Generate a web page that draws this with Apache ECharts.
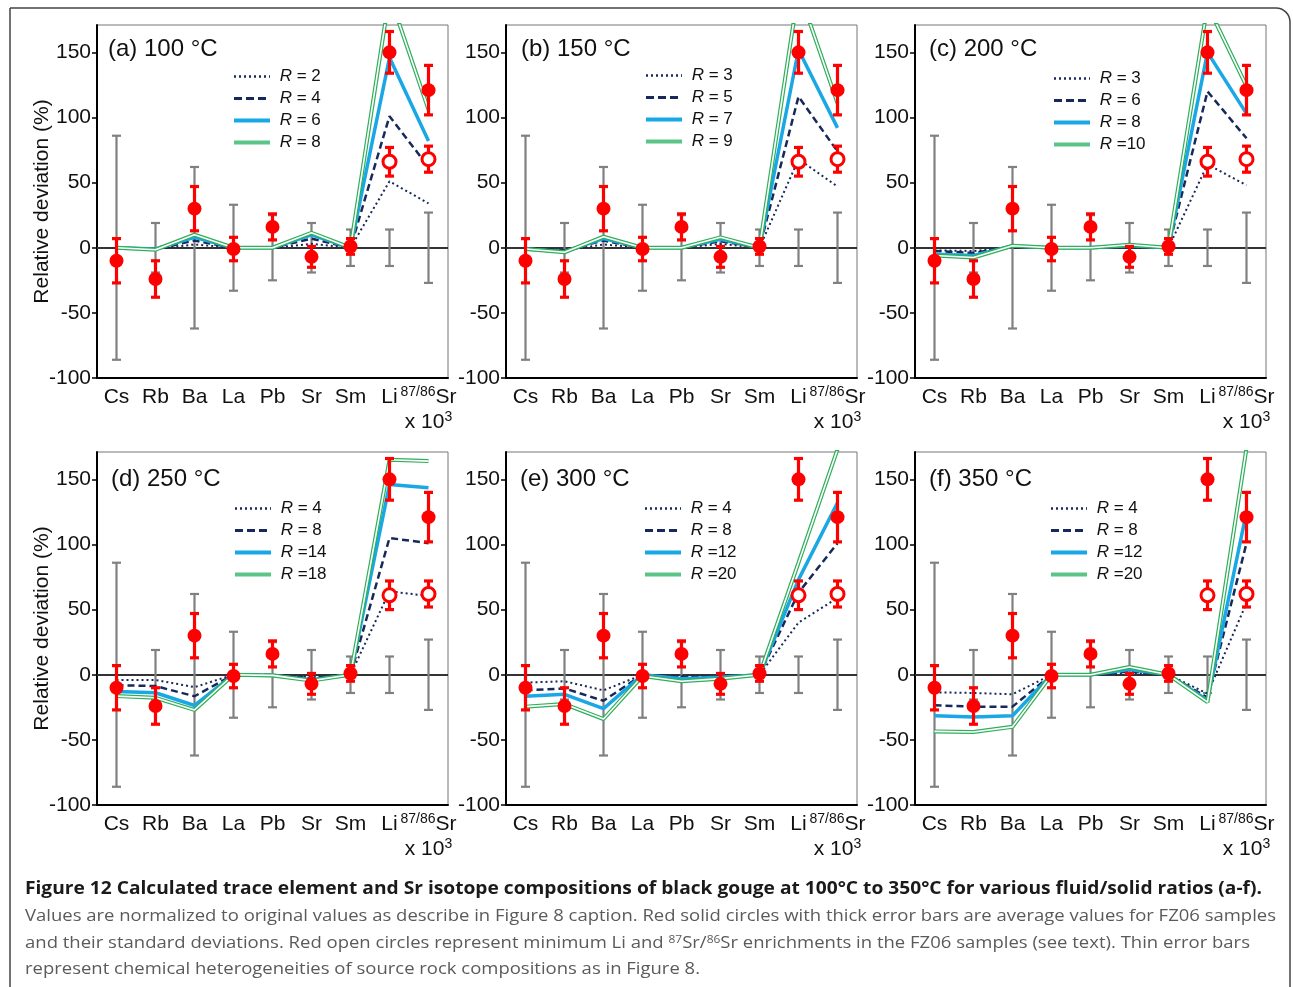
<!DOCTYPE html>
<html>
<head>
<meta charset="utf-8">
<script src="https://cdn.jsdelivr.net/npm/echarts@6/dist/echarts.min.js"></script>
<style>
  html, body { margin: 0; padding: 0; background: #fff; }
  #chart { width: 1293px; height: 987px; }
</style>
</head>
<body>
<div id="chart"></div>
<script>
// categories
const elements = ['Cs', 'Rb', 'Ba', 'La', 'Pb', 'Sr', 'Sm', 'Li', 'Sr87'];
const yTicks = [-100, -50, 0, 50, 100, 150];

// thin gray bars: source rock heterogeneity, centred on 0
const rockSpread = [86, 19, 62, 33, 25, 19, 14, 14, 27];
// red solid circles: FZ06 averages and standard deviations
const fz06Mean = [-10, -24, 30, -1, 16, -7, 1, 150, 121];
const fz06Sd = [17, 14, 17, 9, 10, 8, 6, 16, 19];
// red open circles: minimum Li and 87/86Sr enrichments
const minIdx = [7, 8];
const minTopRow = [66, 68];
const minBottomRow = [61, 62];
const minSd = [11, 10];

const panelTitles = ['(a) 100 °C', '(b) 150 °C', '(c) 200 °C', '(d) 250 °C', '(e) 300 °C', '(f) 350 °C'];
const legendLabels = [
  ['R = 2', 'R = 4', 'R = 6', 'R = 8'],
  ['R = 3', 'R = 5', 'R = 7', 'R = 9'],
  ['R = 3', 'R = 6', 'R = 8', 'R =10'],
  ['R = 4', 'R = 8', 'R =14', 'R =18'],
  ['R = 4', 'R = 8', 'R =12', 'R =20'],
  ['R = 4', 'R = 8', 'R =12', 'R =20']
];

// calculated compositions, one row per fluid/solid ratio (dotted, dashed, blue, green)
const modelA = [
  [0, -1, 2.5, 0, 0, 3, 0, 51, 34],
  [0, -1, 5.5, 0, 0, 7, 0, 101, 62],
  [0, -1, 8, 0, 0, 10, 0, 146, 82],
  [0, -1.5, 10, 0, 0, 11.5, 0, 194, 106]
];
const modelB = [
  [-1, -2, 2.5, 0, 0, 3, 0, 68, 47],
  [-1, -2, 5.5, 0, 0, 5, 0, 116, 74],
  [-1, -3, 7, 0, 0, 6.5, 0, 152, 92],
  [-1, -3.5, 8.5, 0, 0, 8, 0, 198, 111]
];
const modelC = [
  [-2, -2.5, 0, 0, 0, 0, 0, 64, 48],
  [-2.5, -4, 1, 0, 0, 1, 0, 120, 84],
  [-5, -6, 1.3, 0, 0, 1.5, 0, 150, 103],
  [-6, -7.5, 1.5, 0, 0, 2.3, 0, 186, 124]
];
const modelD = [
  [-4, -4, -9.5, 0, 0, -2, 0, 64, 60.5],
  [-8, -8.7, -16.5, 0, 0, -2.5, 0, 105, 101],
  [-12.8, -13.8, -23.6, 0, -0.5, -3.8, 0, 146, 143.5],
  [-16.4, -17.7, -27, 0, -0.5, -4.5, 0, 165, 164]
];
const modelE = [
  [-6, -5, -12, 0, -1, -1, 0, 40, 59],
  [-12, -10.5, -20, 0, -2, -1.5, 0, 63, 101],
  [-16.5, -15, -26, 0, -3, -2, 0, 73, 132],
  [-24.5, -22.5, -34, -1, -5, -3, 0, 86, 173]
];
const modelF = [
  [-13.5, -14, -15, 0, 0, 1.5, 0, -14.5, 55],
  [-23.5, -24.5, -24.5, 0, 0, 2.5, 0, -17.5, 101],
  [-31.5, -32.5, -31.5, 0, 0, 4, 0, -19.5, 125],
  [-43.5, -44, -40, 0, 0, 6, 0, -21, 174]
];
const models = [modelA, modelB, modelC, modelD, modelE, modelF];

// layout
const gridLefts = [97, 506, 915];
const gridTops = [25, 452];
const gridW = 351;
const gridH = 353;
const titlePos = [[108, 37], [521, 37], [929, 37], [111, 467], [520, 467], [929, 467]];
const legendPos = [[232, 68], [644, 67], [1052, 70], [233, 500], [643, 500], [1049, 500]];

const FONT = 'Liberation Sans';
const NAVY = '#17285a';
const BLUE = '#19a7e6';
const GREEN = '#2fae5b';
const RED = '#ff0000';
const GRAY = '#808080';

const lineStyles = [
  { color: NAVY, width: 2, type: [2, 3] },
  { color: NAVY, width: 2.5, type: [7, 4] },
  { color: BLUE, width: 3.5, type: 'solid' },
  { color: GREEN, width: 4, type: 'solid' }
];
const legendLineStyles = [
  { color: NAVY, width: 2.5, type: [2, 3] },
  { color: NAVY, width: 3, type: [8, 4] },
  { color: BLUE, width: 4, type: 'solid' },
  { color: '#5cc487', width: 4, type: 'solid' }
];

function errorBarItem(color, width, cap) {
  return function (params, api) {
    const k = api.value(0);
    const top = api.coord([k, api.value(2)]);
    const bot = api.coord([k, api.value(1)]);
    const s = { stroke: color, lineWidth: width };
    return {
      type: 'group',
      children: [
        { type: 'line', shape: { x1: top[0], y1: top[1], x2: bot[0], y2: bot[1] }, style: s },
        { type: 'line', shape: { x1: top[0] - cap, y1: top[1], x2: top[0] + cap, y2: top[1] }, style: s },
        { type: 'line', shape: { x1: bot[0] - cap, y1: bot[1], x2: bot[0] + cap, y2: bot[1] }, style: s }
      ]
    };
  };
}

const grid = [], xAxis = [], yAxis = [], series = [], legend = [], title = [];
const legendNames = {};

for (let i = 0; i < 6; i++) {
  const col = i % 3, row = Math.floor(i / 3);
  grid.push({
    left: gridLefts[col], top: gridTops[row], width: gridW, height: gridH,
    show: true, borderColor: '#777', borderWidth: 1, backgroundColor: 'transparent'
  });
  xAxis.push({
    type: 'category', gridIndex: i, data: elements,
    axisLine: { onZero: false, lineStyle: { color: '#000', width: 2 } },
    axisTick: { show: false },
    axisLabel: {
      interval: 0, margin: 7, color: '#111',
      formatter: v => v === 'Sr87' ? '{s|87/86}{n|Sr}\n{n|x 10}{s|3}' : '{n|' + v + '}',
      rich: {
        n: { fontSize: 21, lineHeight: 25, fontFamily: FONT, color: '#111' },
        s: { fontSize: 14, lineHeight: 14, fontFamily: FONT, color: '#111', verticalAlign: 'top' }
      }
    }
  });
  yAxis.push({
    type: 'value', gridIndex: i, min: -100, max: 171,
    name: col === 0 ? 'Relative deviation (%)' : '',
    nameLocation: 'middle', nameGap: 44, nameRotate: 90, nameMoveOverlap: false,
    nameTextStyle: { fontSize: 21, fontFamily: FONT, color: '#111' },
    axisLine: { show: true, lineStyle: { color: '#000', width: 2 } },
    axisTick: { show: true, length: 5, customValues: yTicks, lineStyle: { color: '#000', width: 1.5 } },
    axisLabel: { customValues: yTicks, margin: 6, fontSize: 21, fontFamily: FONT, color: '#111' },
    splitLine: { show: false }
  });
  title.push({
    text: panelTitles[i], left: titlePos[i][0], top: titlePos[i][1], padding: 0,
    textStyle: { fontSize: 24, fontWeight: 'normal', fontFamily: FONT, color: '#111' }
  });

  // thin gray bars + zero line
  series.push({
    type: 'custom', xAxisIndex: i, yAxisIndex: i, z: 1,
    renderItem: errorBarItem(GRAY, 2.2, 4.5),
    encode: { x: 0, y: [1, 2] },
    data: elements.map((c, k) => [k, -rockSpread[k], rockSpread[k]]),
    markLine: {
      z: 1, silent: true, symbol: 'none', label: { show: false },
      lineStyle: { color: '#333', width: 2, type: 'solid' },
      data: [{ yAxis: 0 }]
    }
  });

  // model lines
  const names = [];
  models[i].forEach((vals, m) => {
    const name = 'p' + i + 'm' + m;
    names.push(name);
    legendNames[name] = legendLabels[i][m];
    series.push({
      type: 'line', name: name, xAxisIndex: i, yAxisIndex: i,
      data: vals, symbol: 'none', lineStyle: lineStyles[m],
      itemStyle: { color: lineStyles[m].color }, clip: true, z: 2
    });
    if (m === 3) {
      series.push({
        type: 'line', name: name + 'w', xAxisIndex: i, yAxisIndex: i,
        data: vals, symbol: 'none', lineStyle: { color: '#fff', width: 1.6 }, clip: true, z: 2
      });
    }
  });
  legend.push({
    orient: 'vertical', left: legendPos[i][0], top: legendPos[i][1], padding: 0,
    itemWidth: 36, itemHeight: 14, itemGap: 5, selectedMode: false,
    itemStyle: { opacity: 0, borderWidth: 0 },
    data: names.map((n, m) => ({ name: n, lineStyle: legendLineStyles[m] })),
    formatter: n => ' {i|R}' + legendNames[n].slice(1),
    textStyle: {
      fontSize: 17, fontFamily: FONT, color: '#111',
      rich: { i: { fontSize: 17, fontStyle: 'italic', fontFamily: FONT, color: '#111' } }
    }
  });

  // red solid circles with thick bars
  series.push({
    type: 'custom', xAxisIndex: i, yAxisIndex: i, z: 3,
    renderItem: errorBarItem(RED, 3.2, 4.5),
    encode: { x: 0, y: [1, 2] },
    data: elements.map((c, k) => [k, fz06Mean[k] - fz06Sd[k], fz06Mean[k] + fz06Sd[k]])
  });
  series.push({
    type: 'scatter', xAxisIndex: i, yAxisIndex: i, z: 4,
    symbol: 'circle', symbolSize: 14, itemStyle: { color: RED, opacity: 1 },
    data: fz06Mean
  });

  // red open circles
  const minVals = row === 0 ? minTopRow : minBottomRow;
  series.push({
    type: 'custom', xAxisIndex: i, yAxisIndex: i, z: 3,
    renderItem: errorBarItem(RED, 3.2, 4.5),
    encode: { x: 0, y: [1, 2] },
    data: minIdx.map((k, j) => [k, minVals[j] - minSd[j], minVals[j] + minSd[j]])
  });
  series.push({
    type: 'scatter', xAxisIndex: i, yAxisIndex: i, z: 4,
    symbol: 'circle', symbolSize: 13,
    itemStyle: { color: '#fff', borderColor: RED, borderWidth: 3, opacity: 1 },
    data: minIdx.map((k, j) => [k, minVals[j]])
  });
}

// caption, squeezed to the width it has in the figure
const CAP_FONT = '"Open Sans", "Noto Sans", sans-serif';
const measureCtx = document.createElement('canvas').getContext('2d');
function textWidth(font, s) { measureCtx.font = font; return measureCtx.measureText(s).width; }

const captionLines = [
  { segs: [['Figure 12 Calculated trace element and Sr isotope compositions of black gouge at 100°C to 350°C for various fluid/solid ratios (a-f).', 0]], bold: true, y: 889, right: 1262 },
  { segs: [['Values are normalized to original values as describe in Figure 8 caption. Red solid circles with thick error bars are average values for FZ06 samples', 0]], y: 916, right: 1276 },
  { segs: [['and their standard deviations. Red open circles represent minimum Li and ', 0], ['87', 1], ['Sr/', 0], ['86', 1], ['Sr enrichments in the FZ06 samples (see text). Thin error bars', 0]], y: 943, right: 1250 },
  { segs: [['represent chemical heterogeneities of source rock compositions as in Figure 8.', 0]], y: 969, right: 700 }
];

const graphic = [{
  type: 'rect', silent: true,
  shape: { x: 10, y: 8, width: 1280, height: 995, r: [0, 14, 0, 0] },
  style: { fill: 'none', stroke: '#444', lineWidth: 1.5 }
}];
captionLines.forEach(line => {
  const size = line.bold ? 18 : 17;
  const weight = line.bold ? 'bold' : 'normal';
  let w = 0, text = '';
  line.segs.forEach(([s, sup]) => {
    w += textWidth(weight + ' ' + (sup ? 11 : size) + 'px ' + CAP_FONT, s);
    text += sup ? '{s|' + s + '}' : s;
  });
  const left = 25;
  graphic.push({
    type: 'text', silent: true, x: left, y: line.y,
    scaleX: (line.right - left) / w,
    style: {
      text: text, fontFamily: CAP_FONT, fontSize: size, fontWeight: weight,
      fill: line.bold ? '#1a1a1a' : '#5a5a5a', verticalAlign: 'middle', align: 'left',
      rich: { s: { fontSize: 11, fontFamily: CAP_FONT, fill: '#5a5a5a', verticalAlign: 'top', lineHeight: 11 } }
    }
  });
});

const chart = echarts.init(document.getElementById('chart'));
chart.setOption({
  animation: false,
  backgroundColor: '#fff',
  title: title,
  legend: legend,
  grid: grid,
  xAxis: xAxis,
  yAxis: yAxis,
  series: series,
  graphic: graphic
});
</script>
</body>
</html>
